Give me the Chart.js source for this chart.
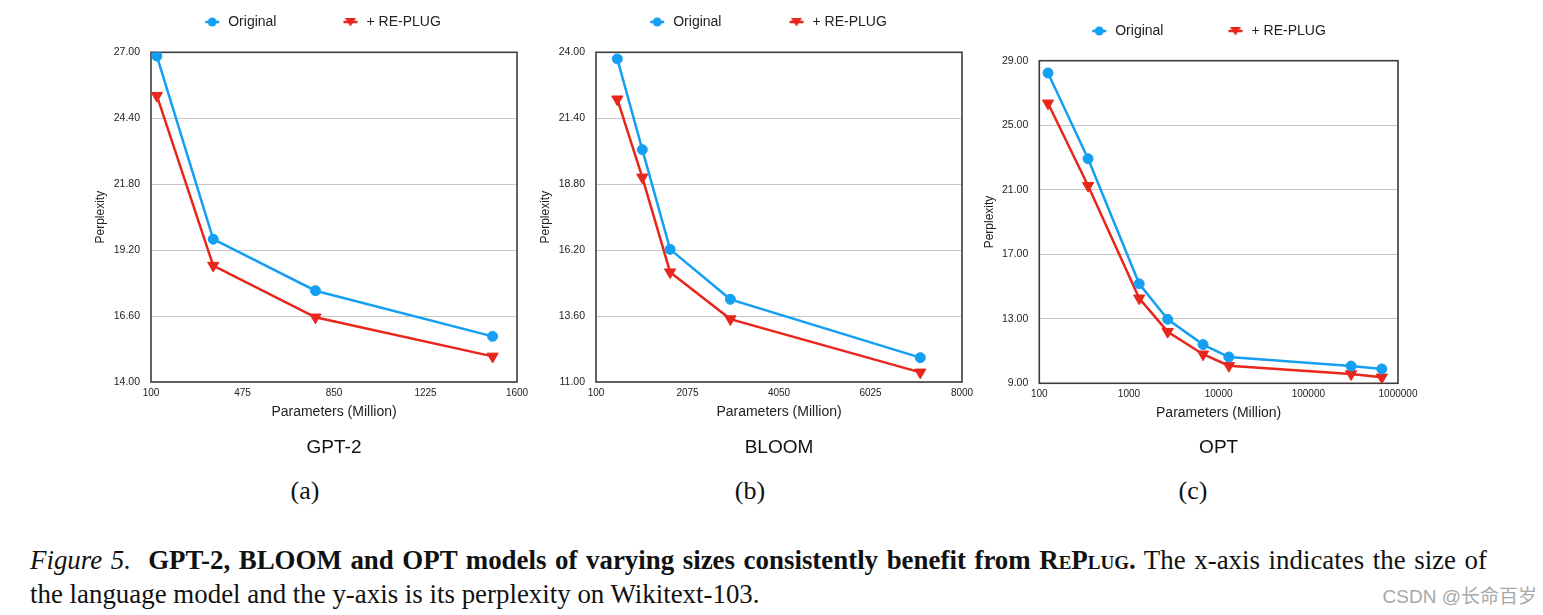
<!DOCTYPE html>
<html>
<head>
<meta charset="utf-8">
<script src="https://cdn.jsdelivr.net/npm/chart.js@4.4.0/dist/chart.umd.min.js"></script>
<style>
html,body{margin:0;padding:0;background:#fff;}
#page{position:relative;width:1543px;height:615px;overflow:hidden;background:#fff;}
#page canvas{position:absolute;top:0;}
.panel{position:absolute;top:476px;width:60px;margin-left:-30px;text-align:center;font-family:'Liberation Serif','Times New Roman',serif;font-size:26px;line-height:30px;color:#111;}
.cap{position:absolute;left:30px;font-family:'Liberation Serif','Times New Roman',serif;font-size:26.9px;line-height:34px;color:#111;white-space:nowrap;}
#cap1{top:543px;width:1457px;text-align:justify;text-align-last:justify;}
#cap2{top:577px;}
#wm{position:absolute;right:6px;top:586px;font-family:'Liberation Sans','Noto Sans CJK SC',sans-serif;font-size:19px;line-height:22px;color:#a8a8a8;white-space:nowrap;}
</style>
</head>
<body>
<div id="page">
  <canvas id="cA" width="470" height="470" style="left:72px"></canvas>
  <canvas id="cB" width="470" height="470" style="left:517px"></canvas>
  <canvas id="cC" width="458" height="470" style="left:965px"></canvas>
  <div class="panel" style="left:305px">(a)</div>
  <div class="panel" style="left:750px">(b)</div>
  <div class="panel" style="left:1193px">(c)</div>
  <div class="cap" id="cap1"><i>Figure 5.</i>&nbsp; <b>GPT-2, BLOOM and OPT models of varying sizes consistently benefit from <span style="font-variant:small-caps">RePlug</span>.</b> The x-axis indicates the size of</div>
  <div class="cap" id="cap2">the language model and the y-axis is its perplexity on Wikitext-103.</div>
  <div id="wm">CSDN @长命百岁</div>
</div>
<script>
// ---------- data ----------
const seriesNames = ['Original', '+ RE-PLUG'];

const gpt2Params   = [124, 355, 774, 1500];
const gpt2Original = [26.85, 19.63, 17.60, 15.80];
const gpt2RePlug   = [25.29, 18.59, 16.55, 15.01];
const gpt2XTicks   = [100, 475, 850, 1225, 1600];
const gpt2YTicks   = [14.0, 16.6, 19.2, 21.8, 24.4, 27.0];

const bloomParams   = [560, 1100, 1700, 3000, 7100];
const bloomOriginal = [23.74, 20.16, 16.23, 14.26, 11.96];
const bloomRePlug   = [22.15, 19.07, 15.33, 13.48, 11.38];
const bloomXTicks   = [100, 2075, 4050, 6025, 8000];
const bloomYTicks   = [11.0, 13.6, 16.2, 18.8, 21.4, 24.0];

const optParams   = [125, 350, 1300, 2700, 6700, 13000, 300000, 660000];
const optOriginal = [28.24, 22.92, 15.17, 12.97, 11.40, 10.63, 10.07, 9.89];
const optRePlug   = [26.36, 21.25, 14.27, 12.20, 10.80, 10.09, 9.58, 9.37];
const optXTicks   = [100, 1000, 10000, 100000, 1000000];
const optYTicks   = [9.0, 13.0, 17.0, 21.0, 25.0, 29.0];

// ---------- styles ----------
const BLUE = '#159ff2';
const RED = '#e8261b';
Chart.defaults.font.family = "'Liberation Sans', Arial, sans-serif";
Chart.defaults.color = '#222';
Chart.defaults.animation = false;

function legendImg(bw, color, shape) {
  const c = document.createElement('canvas');
  c.width = bw; c.height = 14;
  const g = c.getContext('2d');
  const m = bw - 9;
  g.strokeStyle = color; g.fillStyle = color; g.lineWidth = 2.5;
  g.beginPath(); g.moveTo(m - 7, 7); g.lineTo(m + 7, 7); g.stroke();
  g.beginPath();
  if (shape === 'circle') {
    g.arc(m, 7, 4.5, 0, Math.PI * 2);
  } else {
    g.moveTo(m - 5.5, 3); g.lineTo(m + 5.5, 3); g.lineTo(m, 11.5); g.closePath();
  }
  g.fill();
  return c;
}

const legendHeight = {
  id: 'legendHeight',
  beforeInit(chart, args, opts) {
    const lg = chart.legend;
    if (!lg) return;
    const orig = lg.fit;
    lg.fit = function () { orig.call(this); this.height = opts.height; };
  }
};

const frame = {
  id: 'frame',
  beforeDatasetsDraw(chart) {
    const a = chart.chartArea, g = chart.ctx;
    g.save();
    g.strokeStyle = '#3c3c3c';
    g.lineWidth = 1.6;
    g.strokeRect(a.left, a.top, a.right - a.left, a.bottom - a.top);
    g.restore();
  }
};

function makeChart(id, c) {
  const imgs = [legendImg(c.bw, BLUE, 'circle'), legendImg(c.bw, RED, 'tri')];
  const toXY = (xs, ys) => xs.map((x, i) => ({ x: x, y: ys[i] }));
  return new Chart(document.getElementById(id), {
    type: 'line',
    data: {
      datasets: [
        { label: seriesNames[0], data: toXY(c.xs, c.orig), borderColor: BLUE, backgroundColor: BLUE,
          borderWidth: 2.5, pointStyle: 'circle', pointRadius: 5, pointBorderWidth: 1,
          pointBackgroundColor: BLUE, pointBorderColor: BLUE, tension: 0 },
        { label: seriesNames[1], data: toXY(c.xs, c.rep), borderColor: RED, backgroundColor: RED,
          borderWidth: 2.5, pointStyle: 'triangle', pointRotation: 180, pointRadius: 6.5, pointBorderWidth: 1,
          pointBackgroundColor: RED, pointBorderColor: RED, tension: 0 }
      ]
    },
    options: {
      responsive: false,
      animation: false,
      layout: { padding: { top: c.padTop, right: 25, left: 0, bottom: 0 } },
      scales: {
        x: {
          type: c.xType, min: c.xTicks[0], max: c.xTicks[c.xTicks.length - 1],
          afterBuildTicks: s => { s.ticks = c.xTicks.map(v => ({ value: v })); },
          afterFit: s => { s.height = c.xh; },
          grid: { display: false, drawTicks: false },
          border: { display: false },
          ticks: { callback: v => String(v), font: { size: 10 }, color: '#222', padding: 5,
                   autoSkip: false, maxRotation: 0, minRotation: 0 },
          title: { display: true, text: 'Parameters (Million)', font: { size: 14 }, color: '#222',
                   padding: { top: 0, bottom: c.xtpb } }
        },
        y: {
          type: 'linear', min: c.yTicks[0], max: c.yTicks[c.yTicks.length - 1],
          afterBuildTicks: s => { s.ticks = c.yTicks.map(v => ({ value: v })); },
          afterFit: s => { s.width = c.yw; },
          grid: { color: '#c6c6c6', lineWidth: 1, drawTicks: false },
          border: { display: false },
          ticks: { callback: v => Number(v).toFixed(2), font: { size: 10.5 }, color: '#222', padding: 11 },
          title: { display: true, text: 'Perplexity', font: { size: 12 }, color: '#222',
                   padding: { top: c.ytpt, bottom: 0 } }
        }
      },
      plugins: {
        legendHeight: { height: c.lh },
        legend: {
          display: true, position: 'top', align: 'center',
          labels: {
            usePointStyle: true, pointStyleWidth: c.bw, padding: 10,
            font: { size: 14 }, color: '#222',
            generateLabels: ch => Chart.defaults.plugins.legend.labels.generateLabels(ch).map(it => {
              it.pointStyle = imgs[it.datasetIndex]; it.rotation = 0; return it;
            })
          }
        },
        subtitle: {
          display: true, text: c.name, position: 'bottom', fullSize: false,
          font: { size: 19, family: "'Liberation Sans', Arial, sans-serif" }, color: '#111',
          padding: { top: 0, bottom: 11 }
        },
        title: { display: false },
        tooltip: { enabled: false }
      }
    },
    plugins: [legendHeight, frame]
  });
}

makeChart('cA', { name: 'GPT-2', xType: 'linear', xs: gpt2Params, orig: gpt2Original, rep: gpt2RePlug,
  xTicks: gpt2XTicks, yTicks: gpt2YTicks, bw: 73, padTop: 5, lh: 47.3, xh: 54.2, xtpb: 16.1, yw: 79, ytpt: 21.8 });
makeChart('cB', { name: 'BLOOM', xType: 'linear', xs: bloomParams, orig: bloomOriginal, rep: bloomRePlug,
  xTicks: bloomXTicks, yTicks: bloomYTicks, bw: 74, padTop: 5, lh: 47.3, xh: 54.2, xtpb: 15.8, yw: 79, ytpt: 21.8 });
makeChart('cC', { name: 'OPT', xType: 'logarithmic', xs: optParams, orig: optOriginal, rep: optRePlug,
  xTicks: optXTicks, yTicks: optYTicks, bw: 71, padTop: 14, lh: 46.7, xh: 52.9, xtpb: 14.5, yw: 74.3, ytpt: 17.8 });
</script>
</body>
</html>
